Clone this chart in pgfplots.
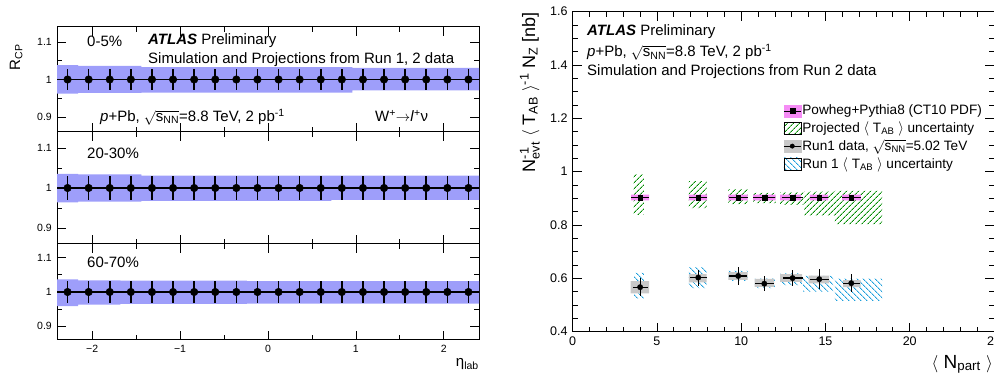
\documentclass[border=0pt]{standalone}
\usepackage{amsmath}
\usepackage{fontspec}
\setmainfont{Liberation Sans}
\usepackage{pgfplots}
\usepackage{pgfplotstable}
\pgfplotsset{compat=1.18}
\usetikzlibrary{patterns.meta}

\definecolor{bandblue}{RGB}{158,158,250}
\definecolor{pinkband}{RGB}{245,140,245}
\definecolor{hgreen}{RGB}{0,140,0}
\definecolor{hblue}{RGB}{30,160,220}
\definecolor{sysgray}{RGB}{200,200,200}

\pgfplotsset{
 rootax/.style={scale only axis, axis line style={line width=1pt}, tick align=inside,
   major tick length=9pt, minor tick length=5pt, tick style={black,line width=0.8pt}},
 leftp/.style={rootax, width=422pt, xmin=-2.4, xmax=2.4, ymin=0.86, ymax=1.14,
   xtick={-2,-1,0,1,2}, minor xtick={-1.5,-0.5,0.5,1.5}, xticklabels={},
   ytick={0.9,1,1.1}, yticklabels={0.9,1,1.1}, minor ytick={0.95,1.05},
   yticklabel style={font=\fontsize{10.5}{12}\selectfont}},
 rcp/.style={only marks, mark=*, mark size=3.8pt, black,
   error bars/.cd, x dir=both, x explicit, y dir=both, y explicit, error mark=none,
   error bar style={line width=1.6pt, black}},
}

\pgfplotstableread{
x y ex ey
-2.28 1 0.12 0.029
-2.04 1 0.12 0.029
-1.80 1 0.12 0.029
-1.56 1 0.12 0.029
-1.32 1 0.12 0.029
-1.08 1 0.12 0.029
-0.84 1 0.12 0.029
-0.60 1 0.12 0.029
-0.36 1 0.12 0.029
-0.12 1 0.12 0.029
0.12 1 0.12 0.029
0.36 1 0.12 0.029
0.60 1 0.12 0.029
0.84 1 0.12 0.029
1.08 1 0.12 0.029
1.32 1 0.12 0.029
1.56 1 0.12 0.029
1.80 1 0.12 0.029
2.04 1 0.12 0.029
2.28 1 0.12 0.029
}\rcpa

\pgfplotstableread{
x y ex ey
-2.28 1 0.12 0.030
-2.04 1 0.12 0.030
-1.80 1 0.12 0.030
-1.56 1 0.12 0.030
-1.32 1 0.12 0.030
-1.08 1 0.12 0.030
-0.84 1 0.12 0.030
-0.60 1 0.12 0.030
-0.36 1 0.12 0.030
-0.12 1 0.12 0.030
0.12 1 0.12 0.030
0.36 1 0.12 0.030
0.60 1 0.12 0.030
0.84 1 0.12 0.030
1.08 1 0.12 0.030
1.32 1 0.12 0.030
1.56 1 0.12 0.030
1.80 1 0.12 0.030
2.04 1 0.12 0.030
2.28 1 0.12 0.030
}\rcpb

\pgfplotstableread{
x y ex ey
-2.28 1 0.12 0.032
-2.04 1 0.12 0.032
-1.80 1 0.12 0.032
-1.56 1 0.12 0.032
-1.32 1 0.12 0.032
-1.08 1 0.12 0.032
-0.84 1 0.12 0.032
-0.60 1 0.12 0.032
-0.36 1 0.12 0.032
-0.12 1 0.12 0.032
0.12 1 0.12 0.032
0.36 1 0.12 0.032
0.60 1 0.12 0.032
0.84 1 0.12 0.032
1.08 1 0.12 0.032
1.32 1 0.12 0.032
1.56 1 0.12 0.032
1.80 1 0.12 0.032
2.04 1 0.12 0.032
2.28 1 0.12 0.032
}\rcpc

\pgfplotstableread{
x y ex
4.00 0.903 0.53
7.45 0.903 0.53
9.82 0.903 0.57
11.37 0.903 0.66
13.05 0.903 0.62
14.63 0.903 0.54
16.53 0.903 0.55
}\powheg

\pgfplotstableread{
x y ex ey
4.00 0.567 0.45 0.034
7.45 0.603 0.50 0.030
9.82 0.609 0.55 0.034
11.37 0.580 0.55 0.027
13.05 0.601 0.60 0.029
14.63 0.597 0.55 0.037
16.53 0.582 0.50 0.034
}\runone

\begin{document}
\begin{tikzpicture}
\fontsize{15}{18}\selectfont
% ---------------- left: top panel
\begin{axis}[leftp, at={(57pt,242pt)}, anchor=south west, height=105pt]
\addplot[fill=bandblue, draw=none] coordinates {(-2.4,1.038) (-2.16,1.038) (-2.16,1.036) (-1.44,1.036) (-1.44,1.033) (0.96,1.033) (0.96,1.031) (2.4,1.031) (2.4,0.971) (0.96,0.971) (0.96,0.965) (-1.44,0.965) (-1.44,0.964) (-2.16,0.964) (-2.16,0.962) (-2.4,0.962)};
\addplot[rcp] table[x=x,y=y,x error=ex,y error=ey] {\rcpa};
\end{axis}
% ---------------- left: middle panel
\begin{axis}[leftp, at={(57pt,130pt)}, anchor=south west, height=112pt]
\addplot[fill=bandblue, draw=none] coordinates {(-2.4,1.035) (-2.16,1.035) (-2.16,1.034) (-1.44,1.034) (-1.44,1.031) (2.4,1.031) (2.4,0.970) (0.72,0.970) (0.72,0.968) (-1.44,0.968) (-1.44,0.966) (-2.16,0.966) (-2.16,0.964) (-2.4,0.964)};
\addplot[rcp] table[x=x,y=y,x error=ex,y error=ey] {\rcpb};
\end{axis}
% ---------------- left: bottom panel
\begin{axis}[leftp, at={(57pt,34pt)}, anchor=south west, height=96pt,
  xticklabels={−2,−1,0,1,2}, xticklabel style={font=\fontsize{10.5}{12}\selectfont}]
\addplot[fill=bandblue, draw=none] coordinates {(-2.4,1.037) (-2.16,1.037) (-2.16,1.034) (-1.68,1.034) (-1.68,1.033) (-0.24,1.033) (-0.24,1.032) (2.4,1.032) (2.4,0.966) (-0.24,0.966) (-0.24,0.965) (-1.68,0.965) (-1.68,0.963) (-2.16,0.963) (-2.16,0.959) (-2.4,0.959)};
\addplot[rcp] table[x=x,y=y,x error=ex,y error=ey] {\rcpc};
\end{axis}

% ---------------- right panel
\begin{axis}[rootax, at={(572.7pt,42.3pt)}, anchor=south west, width=421.3pt, height=320pt,
  xmin=0, xmax=25, ymin=0.4, ymax=1.6,
  xtick={0,5,10,15,20,25}, xticklabels={0,5,10,15,20,25}, minor x tick num=4,
  ytick={0.4,0.6,0.8,1,1.2,1.4,1.6}, yticklabels={0.4,0.6,0.8,1,1.2,1.4,1.6}, minor y tick num=3,
  ticklabel style={font=\fontsize{12.5}{14}\selectfont},
  legend cell align=left,
  legend style={at={(0.492,0.718)}, anchor=north west, draw=none, fill=none,
    font=\fontsize{13.6}{16}\selectfont, row sep=2.6pt, nodes={inner sep=1pt},
    /tikz/every even column/.append style={column sep=2pt}},
  unbounded coords=jump]
\addplot[draw=none, pattern={Lines[angle=45,distance=4pt,line width=0.9pt]}, pattern color=hgreen, forget plot] coordinates {
(3.62,0.838) (4.23,0.838) (4.23,0.990) (3.62,0.990) (nan,nan)
(6.90,0.863) (7.95,0.863) (7.95,0.965) (6.90,0.965) (nan,nan)
(9.23,0.878) (10.38,0.878) (10.38,0.935) (9.23,0.935) (nan,nan)
(10.71,0.882) (12.04,0.882) (12.04,0.921) (10.71,0.921) (nan,nan)
(12.31,0.876) (13.70,0.876) (13.70,0.922) (12.31,0.922) (nan,nan)
(13.75,0.836) (15.56,0.836) (15.56,0.925) (13.75,0.925) (nan,nan)
(15.56,0.803) (18.36,0.803) (18.36,0.928) (15.56,0.928)};
\addplot[draw=none, pattern={Lines[angle=-45,distance=4pt,line width=0.9pt]}, pattern color=hblue, forget plot] coordinates {
(3.64,0.525) (4.23,0.525) (4.23,0.621) (3.64,0.621) (nan,nan)
(6.90,0.563) (7.95,0.563) (7.95,0.641) (6.90,0.641) (nan,nan)
(9.23,0.591) (10.38,0.591) (10.38,0.628) (9.23,0.628) (nan,nan)
(10.81,0.563) (12.00,0.563) (12.00,0.600) (10.81,0.600) (nan,nan)
(12.31,0.575) (13.62,0.575) (13.62,0.619) (12.31,0.619) (nan,nan)
(13.68,0.550) (15.46,0.550) (15.46,0.609) (13.68,0.609) (nan,nan)
(15.56,0.516) (18.36,0.516) (18.36,0.599) (15.56,0.599)};
\addplot[draw=none, fill=pinkband, forget plot] coordinates {
(3.46,0.892) (4.53,0.892) (4.53,0.914) (3.46,0.914) (nan,nan)
(6.90,0.892) (7.97,0.892) (7.97,0.914) (6.90,0.914) (nan,nan)
(9.23,0.892) (10.38,0.892) (10.38,0.914) (9.23,0.914) (nan,nan)
(10.71,0.892) (12.04,0.892) (12.04,0.914) (10.71,0.914) (nan,nan)
(12.31,0.892) (13.56,0.892) (13.56,0.914) (12.31,0.914) (nan,nan)
(14.08,0.892) (15.16,0.892) (15.16,0.914) (14.08,0.914) (nan,nan)
(15.99,0.892) (17.10,0.892) (17.10,0.914) (15.99,0.914)};
\addplot[draw=none, fill=sysgray, forget plot] coordinates {
(3.44,0.544) (4.53,0.544) (4.53,0.590) (3.44,0.590) (nan,nan)
(6.90,0.585) (7.95,0.585) (7.95,0.616) (6.90,0.616) (nan,nan)
(9.23,0.594) (10.38,0.594) (10.38,0.623) (9.23,0.623) (nan,nan)
(10.80,0.568) (11.95,0.568) (11.95,0.598) (10.80,0.598) (nan,nan)
(12.31,0.587) (13.62,0.587) (13.62,0.616) (12.31,0.616) (nan,nan)
(14.00,0.581) (15.22,0.581) (15.22,0.610) (14.00,0.610) (nan,nan)
(16.05,0.567) (17.08,0.567) (17.08,0.593) (16.05,0.593)};
\addplot[only marks, mark=square*, mark size=2.4pt, black, forget plot,
  error bars/.cd, x dir=both, x explicit, error mark=none, error bar style={line width=1.2pt,black}]
  table[x=x,y=y,x error=ex] {\powheg};
\addplot[only marks, mark=*, mark size=2.7pt, black, forget plot,
  error bars/.cd, x dir=both, x explicit, y dir=both, y explicit, error mark=none, error bar style={line width=1.2pt,black}]
  table[x=x,y=y,x error=ex,y error=ey] {\runone};
\addlegendimage{legend image code/.code={
  \fill[pinkband] (0pt,-6pt) rectangle (17pt,6pt);
  \draw[black,line width=1.2pt] (0pt,0pt) -- (17pt,0pt);
  \fill[black] (6pt,-2.5pt) rectangle (11pt,2.5pt);}}
\addlegendentry{Powheg+Pythia8 (CT10 PDF)}
\addlegendimage{legend image code/.code={
  \path[pattern={Lines[angle=45,distance=4pt,line width=0.9pt]}, pattern color=hgreen] (0pt,-6pt) rectangle (17pt,6pt);}}
\addlegendentry{Projected $\langle$ T$_{\text{AB}}$ $\rangle$ uncertainty}
\addlegendimage{legend image code/.code={
  \fill[sysgray] (0pt,-6pt) rectangle (17pt,6pt);
  \draw[black,line width=1.2pt] (0pt,0pt) -- (17pt,0pt);
  \fill[black] (8.5pt,0pt) circle (2.2pt);}}
\addlegendentry{Run1 data, $\sqrt{\text{s}_{\text{NN}}}$=5.02 TeV}
\addlegendimage{legend image code/.code={
  \path[pattern={Lines[angle=-45,distance=4pt,line width=0.9pt]}, pattern color=hblue] (0pt,-6pt) rectangle (17pt,6pt);}}
\addlegendentry{Run 1 $\langle$ T$_{\text{AB}}$ $\rangle$ uncertainty}
\end{axis}

% ---------------- texts left
\node[anchor=base west, inner sep=0pt] at (87pt,327.3pt) {0-5\%};
\node[anchor=base west, inner sep=0pt] at (148pt,329pt) {\textbf{\textit{ATLAS}} Preliminary};
\node[anchor=base west, inner sep=0pt] at (148pt,310.7pt) {Simulation and Projections from Run 1, 2 data};
\node[anchor=base west, inner sep=0pt] at (100pt,252.3pt) {\textit{p}+Pb, $\sqrt{\text{s}_{\text{NN}}}$=8.8 TeV, 2 pb$^{\text{-1}}$};
\node[anchor=base west, inner sep=0pt] at (375pt,252.3pt) {W$^{\text{+}}$$\rightarrow$\textit{l}$^{\text{+}}$ν};
\node[anchor=base west, inner sep=0pt] at (87pt,215.7pt) {20-30\%};
\node[anchor=base west, inner sep=0pt] at (87pt,106.7pt) {60-70\%};
\node[anchor=base east, inner sep=0pt, rotate=90] at (20pt,330pt) {R$_{\text{CP}}$};
\node[anchor=base east, inner sep=0pt] at (479pt,7pt) {η$_{\text{lab}}$};
% ---------------- texts right
\node[anchor=base west, inner sep=0pt] at (587pt,338pt) {\textbf{\textit{ATLAS}} Preliminary};
\node[anchor=base west, inner sep=0pt] at (587pt,317pt) {\textit{p}+Pb, $\sqrt{\text{s}_{\text{NN}}}$=8.8 TeV, 2 pb$^{\text{-1}}$};
\node[anchor=base west, inner sep=0pt] at (587pt,298pt) {Simulation and Projections from Run 2 data};
\node[anchor=base east, inner sep=0pt, rotate=90, font=\fontsize{18}{20}\selectfont] at (535pt,362pt)
  {N$^{\text{-1}}_{\text{evt}}$ $\langle$ T$_{\text{AB}}$ $\rangle^{\text{-1}}$ N$_{\text{Z}}$ [nb]};
\node[anchor=base east, inner sep=0pt, font=\fontsize{19}{21}\selectfont] at (993pt,5.7pt)
  {$\langle$ N$_{\text{part}}$ $\rangle$};
\pgfresetboundingbox
\useasboundingbox (0pt,0pt) rectangle (994pt,374pt);
\end{tikzpicture}
\end{document}
